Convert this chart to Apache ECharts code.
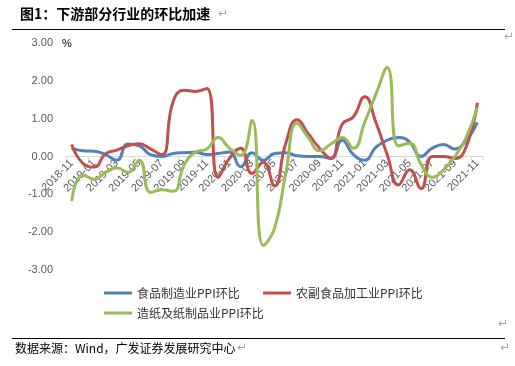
<!DOCTYPE html>
<html>
<head>
<meta charset="utf-8">
<script src="https://cdn.jsdelivr.net/npm/echarts@6/dist/echarts.min.js"></script>
<style>html,body{margin:0;padding:0;background:#fff;}#c{width:515px;height:366px;}</style>
</head>
<body>
<div id="c"></div>
<script>
var categories = ['2018-11','2018-12','2019-01','2019-02','2019-03','2019-04','2019-05','2019-06','2019-07','2019-08','2019-09','2019-10','2019-11','2019-12','2020-01','2020-02','2020-03','2020-04','2020-05','2020-06','2020-07','2020-08','2020-09','2020-10','2020-11','2020-12','2021-01','2021-02','2021-03','2021-04','2021-05','2021-06','2021-07','2021-08','2021-09','2021-10','2021-11'];
var foodMfg = [0.22,0.15,0.14,0.05,-0.1,0.33,0.28,0.05,0.0,0.08,0.1,0.11,0.05,0.08,0.12,-0.27,0.1,-0.1,0.08,0.1,0.02,0.0,0.0,-0.05,0.43,0.05,-0.1,0.25,0.43,0.5,0.38,0.0,0.22,0.32,0.2,0.42,0.9];
var agriFood = [0.32,-0.18,-0.28,0.07,0.17,0.28,0.34,0.2,0.05,1.45,1.75,1.72,1.8,-0.55,-0.05,0.22,-0.45,-0.15,-0.78,0.35,0.97,0.6,0.22,-0.05,0.85,1.05,1.58,0.9,0.05,-0.75,-0.35,-0.85,0.0,0.0,-0.05,0.25,1.42];
var paper = [-1.18,-0.48,-0.6,-0.42,-0.3,-0.42,-0.1,-0.95,-0.88,-0.92,-0.22,0.12,0.2,0.5,0.22,0.03,0.95,-2.35,-1.9,-0.45,0.88,0.5,0.15,0.33,0.5,0.22,0.9,1.65,2.35,0.28,0.35,-0.2,-0.55,-0.35,0.0,0.5,1.3];
var yTicks = [-3,-2,-1,0,1,2,3];
var seriesNames = ['食品制造业PPI环比','农副食品加工业PPI环比','造纸及纸制品业PPI环比'];
var colors = ['#4F81BD','#C0504D','#9BBB59'];

var chart = echarts.init(document.getElementById('c'), null, {renderer:'canvas'});
var cjk = '"Noto Sans CJK SC", sans-serif';
var lat = '"Liberation Sans", Arial, sans-serif';
var legendBase = {
  orient:'horizontal', padding:0, itemWidth:28, itemHeight:3, icon:'rect',
  selectedMode:false,
  textStyle:{fontFamily:cjk, fontSize:12, color:'#333'}
};
chart.setOption({
  animation:false,
  color: colors,
  grid:{left:66, right:32, top:43, bottom:96},
  legend:[
    Object.assign({}, legendBase, {left:104, top:287, data:[seriesNames[0]]}),
    Object.assign({}, legendBase, {left:263, top:287, data:[seriesNames[1]]}),
    Object.assign({}, legendBase, {left:104, top:307, data:[seriesNames[2]]})
  ],
  xAxis:{
    type:'category', data:categories, boundaryGap:true, position:'bottom', offset:-113.5,
    axisLine:{onZero:false, lineStyle:{color:'#d9d9d9', width:1}},
    axisTick:{show:true, interval:1, length:4, lineStyle:{color:'#d9d9d9'}},
    axisLabel:{interval:1, rotate:45, margin:5, fontFamily:lat, fontSize:11, color:'#595959'},
    splitLine:{show:false}
  },
  yAxis:{
    type:'value', min:yTicks[0], max:yTicks[yTicks.length-1], interval:1,
    axisLine:{show:false}, axisTick:{show:false},
    splitLine:{show:false},
    axisLabel:{margin:13, fontFamily:lat, fontSize:11, color:'#595959', formatter:function(v){return v.toFixed(2);}}
  },
  series:[
    {name:seriesNames[0], type:'line', data:foodMfg, smooth:0.5, symbol:'none', lineStyle:{width:3, color:colors[0]}, itemStyle:{color:colors[0]}},
    {name:seriesNames[1], type:'line', data:agriFood, smooth:0.5, symbol:'none', lineStyle:{width:3, color:colors[1]}, itemStyle:{color:colors[1]}},
    {name:seriesNames[2], type:'line', data:paper, smooth:0.5, symbol:'none', lineStyle:{width:3, color:colors[2]}, itemStyle:{color:colors[2]}}
  ],
  graphic:[
    {type:'text', left:20, top:7, style:{text:'图1：下游部分行业的环比加速', font:'bold 14px "Noto Sans CJK SC"', fill:'#000'}},
    {type:'text', left:218, top:8, style:{text:'↵', font:'12px "DejaVu Sans"', fill:'#a6a6a6'}},
    {type:'line', shape:{x1:12, y1:29.5, x2:505, y2:29.5}, style:{stroke:'#000', lineWidth:1}},
    {type:'text', left:504, top:31, style:{text:'↵', font:'12px "DejaVu Sans"', fill:'#a6a6a6'}},
    {type:'text', left:62, top:38, style:{text:'%', font:'11px "Liberation Sans"', fill:'#000'}},
    {type:'text', left:498, top:318, style:{text:'↵', font:'12px "DejaVu Sans"', fill:'#a6a6a6'}},
    {type:'line', shape:{x1:12, y1:338.5, x2:505, y2:338.5}, style:{stroke:'#000', lineWidth:1}},
    {type:'text', left:15, top:342, style:{text:'数据来源：Wind，广发证券发展研究中心', font:'12px "Noto Sans CJK SC"', fill:'#000'}},
    {type:'text', left:237, top:342, style:{text:'↵', font:'12px "DejaVu Sans"', fill:'#a6a6a6'}},
    {type:'text', left:500, top:342, style:{text:'↵', font:'12px "DejaVu Sans"', fill:'#a6a6a6'}}
  ]
});
</script>
</body>
</html>
